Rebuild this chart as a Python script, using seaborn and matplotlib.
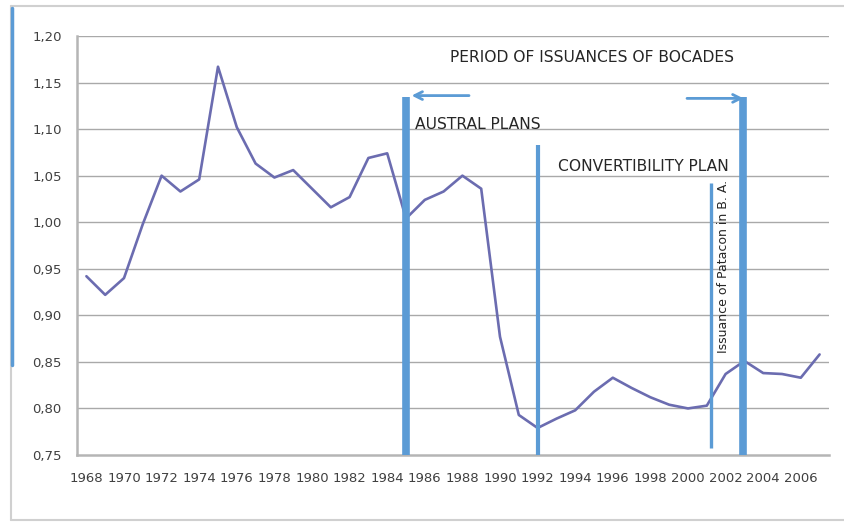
#!/bin/env python3

"""
Line chart of the yearly ratio with the policy periods marked on top
"""

import pandas as pd
import matplotlib.pyplot as plt
from matplotlib.lines import Line2D
from matplotlib.ticker import FixedLocator
import seaborn as sns
sns.set_style('white')
plt.rcParams['font.family'] = ['DejaVu Sans']

years = list(range(1968, 2008))
ratio = [0.942, 0.922, 0.940, 0.998, 1.050, 1.033, 1.046, 1.167, 1.102, 1.063,
         1.048, 1.056, 1.036, 1.016, 1.027, 1.069, 1.074, 1.004, 1.024, 1.033,
         1.050, 1.036, 0.877, 0.793, 0.779, 0.789, 0.798, 0.818, 0.833, 0.822,
         0.812, 0.804, 0.800, 0.803, 0.837, 0.851, 0.838, 0.837, 0.833, 0.858]

y_ticks = [0.75, 0.80, 0.85, 0.90, 0.95, 1.00, 1.05, 1.10, 1.15, 1.20]
y_tick_labels = ['0,75', '0,80', '0,85', '0,90', '0,95', '1,00', '1,05', '1,10', '1,15', '1,20']
x_tick_years = list(range(1968, 2007, 2))

# vertical markers: (year, top value, bottom value, width)
markers = [(1985, 1.134, 0.75, 5.5),
           (1992, 1.083, 0.75, 3.0),
           (2001.2, 1.042, 0.757, 2.4),
           (2002.95, 1.134, 0.75, 5.5)]

line_col = '#6b6cb0'
mark_col = '#5b9bd5'
grid_col = '#a9a9a9'
text_col = '#404040'

df = pd.DataFrame({'year': years, 'ratio': ratio})

fig = plt.figure(figsize=(8.45, 5.22), dpi=100)
ax = fig.add_axes([77 / 845, 1 - 455 / 522, (829 - 77) / 845, (455 - 36) / 522])

for yv in y_ticks[1:]:
    ax.axhline(yv, color=grid_col, lw=1.0, zorder=0)

sns.lineplot(data=df, x='year', y='ratio', ax=ax, color=line_col, lw=1.9, zorder=3)

for xv, top, bot, w in markers:
    ax.plot([xv, xv], [bot, top], color=mark_col, lw=w, solid_capstyle='butt', zorder=4)

ax.annotate('', xy=(1985.15, 1.136), xytext=(1988.5, 1.136),
            arrowprops=dict(arrowstyle='->', color=mark_col, lw=2.0,
                            mutation_scale=14), zorder=5)
ax.annotate('', xy=(2003.1, 1.133), xytext=(1999.8, 1.133),
            arrowprops=dict(arrowstyle='->', color=mark_col, lw=2.0,
                            mutation_scale=14), zorder=5)

ax.text(1987.35, 1.177, 'PERIOD OF ISSUANCES OF BOCADES', fontsize=11.2,
        color='#262626', va='center', ha='left')
ax.text(1985.5, 1.105, 'AUSTRAL PLANS', fontsize=11.2, color='#262626',
        va='center', ha='left')
ax.text(1993.1, 1.060, 'CONVERTIBILITY PLAN', fontsize=11.2, color='#262626',
        va='center', ha='left')
ax.text(2001.9, 0.953, 'Issuance of Patacon in B. A.', fontsize=9,
        family=['Liberation Sans Narrow', 'DejaVu Sans'], color='#262626',
        rotation=90, va='center', ha='center')

ax.set_xlim(1967.5, 2007.5)
ax.set_ylim(0.75, 1.20)
ax.set_yticks(y_ticks)
ax.set_yticklabels(y_tick_labels)
ax.set_xticks(x_tick_years)
ax.set_xticklabels([str(y) for y in x_tick_years])
ax.xaxis.set_minor_locator(FixedLocator([y - 0.5 for y in years] + [2007.5]))
ax.tick_params(axis='x', which='major', length=0, pad=12, labelsize=9.5, labelcolor=text_col)
ax.tick_params(axis='x', which='minor', length=4, width=1, color=grid_col, direction='out')
ax.tick_params(axis='y', which='major', length=5, width=1, color=grid_col,
               pad=6, labelsize=9.5, labelcolor=text_col)
ax.set_xlabel('')
ax.set_ylabel('')

for side in ['top', 'right']:
    ax.spines[side].set_visible(False)
for side in ['left', 'bottom']:
    ax.spines[side].set_color('#b5b5b5')
    ax.spines[side].set_linewidth(1.8)

# outer frame of the original picture
fig.add_artist(Line2D([11 / 845, 1], [1 - 6 / 522, 1 - 6 / 522], color='#d0d0d0', lw=1.5))
fig.add_artist(Line2D([11 / 845, 11 / 845], [1 - 6 / 522, 1 - 520 / 522], color='#d0d0d0', lw=1.5))
fig.add_artist(Line2D([11 / 845, 1], [1 - 520 / 522, 1 - 520 / 522], color='#d0d0d0', lw=1.5))
fig.add_artist(Line2D([12 / 845, 12 / 845], [1 - 8 / 522, 1 - 365 / 522], color=mark_col, lw=2.5))

plt.savefig('out.png', dpi=100, facecolor='white')
plt.close()
